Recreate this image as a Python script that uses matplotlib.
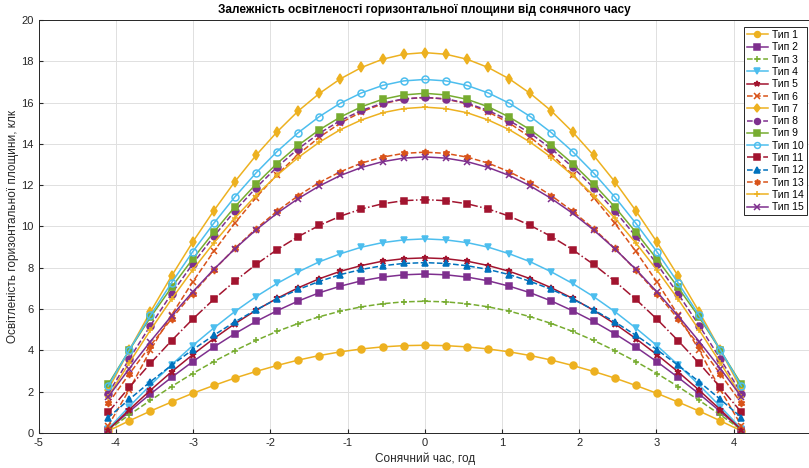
import numpy as np
import matplotlib
matplotlib.use("Agg")
import matplotlib.pyplot as plt

plt.rcParams['font.family'] = ['Liberation Sans', 'DejaVu Sans']
plt.rcParams['axes.unicode_minus'] = False

# solar time, hours (31 points)
hours = np.linspace(-4.1, 4.1, 31)

# illuminance of the horizontal plane, klx
tip1 = [0.10, 0.59, 1.06, 1.50, 1.92, 2.30, 2.66, 2.98, 3.27, 3.53, 3.75, 3.93, 4.07, 4.17, 4.23, 4.25,
        4.23, 4.17, 4.07, 3.93, 3.75, 3.53, 3.27, 2.98, 2.66, 2.30, 1.92, 1.50, 1.06, 0.59, 0.10]
tip2 = [0.15, 1.04, 1.89, 2.69, 3.45, 4.16, 4.81, 5.40, 5.92, 6.39, 6.79, 7.11, 7.37, 7.55, 7.66, 7.70,
        7.66, 7.55, 7.37, 7.11, 6.79, 6.39, 5.92, 5.40, 4.81, 4.16, 3.45, 2.69, 1.89, 1.04, 0.15]
tip3 = [0.15, 0.88, 1.58, 2.25, 2.88, 3.46, 3.99, 4.48, 4.92, 5.30, 5.63, 5.90, 6.11, 6.26, 6.35, 6.38,
        6.35, 6.26, 6.11, 5.90, 5.63, 5.30, 4.92, 4.48, 3.99, 3.46, 2.88, 2.25, 1.58, 0.88, 0.15]
tip4 = [0.20, 1.28, 2.32, 3.30, 4.23, 5.08, 5.88, 6.60, 7.24, 7.80, 8.29, 8.68, 9.00, 9.22, 9.35, 9.40,
        9.35, 9.22, 9.00, 8.68, 8.29, 7.80, 7.24, 6.60, 5.88, 5.08, 4.23, 3.30, 2.32, 1.28, 0.20]
tip5 = [0.15, 1.13, 2.07, 2.96, 3.79, 4.57, 5.29, 5.94, 6.52, 7.03, 7.47, 7.83, 8.11, 8.32, 8.44, 8.48,
        8.44, 8.32, 8.11, 7.83, 7.47, 7.03, 6.52, 5.94, 5.29, 4.57, 3.79, 2.96, 2.07, 1.13, 0.15]
tip6 = [0.35, 2.10, 4.01, 5.71, 7.31, 8.79, 10.16, 11.40, 12.51, 13.49, 14.32, 15.01, 15.55, 15.94, 16.17, 16.25,
        16.17, 15.94, 15.55, 15.01, 14.32, 13.49, 12.51, 11.40, 10.16, 8.79, 7.31, 5.71, 4.01, 2.10, 0.35]
tip7 = [2.10, 4.02, 5.86, 7.60, 9.24, 10.76, 12.17, 13.44, 14.58, 15.59, 16.44, 17.15, 17.70, 18.10, 18.34, 18.42,
        18.34, 18.10, 17.70, 17.15, 16.44, 15.59, 14.58, 13.44, 12.17, 10.76, 9.24, 7.60, 5.86, 4.02, 2.10]
tip8 = [1.90, 3.59, 5.20, 6.74, 8.18, 9.52, 10.75, 11.87, 12.88, 13.76, 14.51, 15.13, 15.62, 15.97, 16.18, 16.25,
        16.18, 15.97, 15.62, 15.13, 14.51, 13.76, 12.88, 11.87, 10.75, 9.52, 8.18, 6.74, 5.20, 3.59, 1.90]
tip9 = [2.35, 4.01, 5.60, 7.05, 8.42, 9.72, 10.95, 12.05, 13.05, 13.93, 14.68, 15.30, 15.80, 16.16, 16.37, 16.45,
        16.37, 16.16, 15.80, 15.30, 14.68, 13.93, 13.05, 12.05, 10.95, 9.72, 8.42, 7.05, 5.60, 4.01, 2.35]
tip10 = [2.27, 4.02, 5.69, 7.27, 8.77, 10.15, 11.43, 12.59, 13.63, 14.54, 15.32, 15.97, 16.47, 16.83, 17.05, 17.12,
         17.05, 16.83, 16.47, 15.97, 15.32, 14.54, 13.63, 12.59, 11.43, 10.15, 8.77, 7.27, 5.69, 4.02, 2.27]
tip11 = [1.00, 2.21, 3.37, 4.47, 5.51, 6.47, 7.35, 8.16, 8.88, 9.51, 10.05, 10.50, 10.85, 11.10, 11.25, 11.30,
         11.25, 11.10, 10.85, 10.50, 10.05, 9.51, 8.88, 8.16, 7.35, 6.47, 5.51, 4.47, 3.37, 2.21, 1.00]
tip12 = [0.75, 1.63, 2.48, 3.28, 4.03, 4.73, 5.38, 5.96, 6.49, 6.95, 7.34, 7.67, 7.92, 8.10, 8.21, 8.25,
         8.21, 8.10, 7.92, 7.67, 7.34, 6.95, 6.49, 5.96, 5.38, 4.73, 4.03, 3.28, 2.48, 1.63, 0.75]
tip13 = [1.43, 2.86, 4.23, 5.53, 6.75, 7.89, 8.94, 9.89, 10.74, 11.49, 12.13, 12.65, 13.07, 13.36, 13.54, 13.60,
         13.54, 13.36, 13.07, 12.65, 12.13, 11.49, 10.74, 9.89, 8.94, 7.89, 6.75, 5.53, 4.23, 2.86, 1.43]
tip14 = [1.75, 3.40, 4.98, 6.48, 7.89, 9.20, 10.41, 11.50, 12.48, 13.34, 14.08, 14.69, 15.16, 15.51, 15.71, 15.78,
         15.71, 15.51, 15.16, 14.69, 14.08, 13.34, 12.48, 11.50, 10.41, 9.20, 7.89, 6.48, 4.98, 3.40, 1.75]
tip15 = [1.75, 3.12, 4.43, 5.67, 6.83, 7.92, 8.92, 9.83, 10.64, 11.35, 11.96, 12.47, 12.86, 13.14, 13.31, 13.37,
         13.31, 13.14, 12.86, 12.47, 11.96, 11.35, 10.64, 9.83, 8.92, 7.92, 6.83, 5.67, 4.43, 3.12, 1.75]

series = [tip1, tip2, tip3, tip4, tip5, tip6, tip7, tip8, tip9, tip10, tip11, tip12, tip13, tip14, tip15]
labels = ['Тип %d' % (i + 1) for i in range(15)]

# MATLAB default colours
blue = (0, 0.447, 0.741)
orange = (0.85, 0.325, 0.098)
yellow = (0.929, 0.694, 0.125)
purple = (0.494, 0.184, 0.556)
green = (0.466, 0.674, 0.188)
cyan = (0.301, 0.745, 0.933)
darkred = (0.635, 0.078, 0.184)

# colour, linestyle, marker, filled
styles = [
    (yellow, '-', 'o', True),
    (purple, '-', 's', True),
    (green, '--', '+', False),
    (cyan, '-', 'v', True),
    (darkred, '-', '*', True),
    (orange, '--', 'x', False),
    (yellow, '-', 'd', True),
    (purple, '--', 'o', True),
    (green, '-', 's', True),
    (cyan, '-', 'o', False),
    (darkred, '-.', 's', True),
    (blue, '--', '^', True),
    (orange, '--', (6, 1, 0), True),
    (yellow, '-', '+', False),
    (purple, '-', 'x', False),
]

fig = plt.figure(figsize=(8.09, 4.68), dpi=100)
ax = fig.add_axes([0.0478, 0.0748, 0.9546, 0.8825])

for vals, lab, (c, ls, m, filled) in zip(series, labels, styles):
    ax.plot(hours, vals, color=c, linestyle=ls, marker=m, markersize=5,
            markerfacecolor=c if filled else 'none', markeredgecolor=c,
            linewidth=1.1, markeredgewidth=1.1, label=lab)

ax.set_xlim(-5, 5)
ax.set_ylim(0, 20)
xt = np.arange(-5, 6, 1)
ax.set_xticks(xt)
# the label of 5 falls outside the picture in the original
ax.set_xticklabels([str(v) if v < 5 else '' for v in xt])
ax.set_yticks(np.arange(0, 21, 2))
ax.grid(True, color='#e0e0e0', linewidth=0.7)
ax.set_axisbelow(True)
ax.tick_params(direction='in', labelsize=8, colors='#262626', length=3)
for sp in ax.spines.values():
    sp.set_color('#262626')
    sp.set_linewidth(0.7)

ax.set_title('Залежність освітленості горизонтальної площини від сонячного часу',
             fontsize=8.5, fontweight='bold', pad=5)
ax.set_xlabel('Сонячний час, год', fontsize=8.5, color='#262626', labelpad=3)
ax.set_ylabel('Освітленість горизонтальної площини, клк', fontsize=8.5, color='#262626', labelpad=2)

leg = ax.legend(loc='upper right', bbox_to_anchor=(807 / 809, 1 - 27 / 468),
                bbox_transform=fig.transFigure, fontsize=7.5, labelspacing=0.22,
                handlelength=2.0, handletextpad=0.4, borderpad=0.3, borderaxespad=0,
                fancybox=False, framealpha=1, edgecolor='#262626', markerscale=0.85)
leg.get_frame().set_linewidth(0.7)

plt.savefig('out.png', dpi=100)
